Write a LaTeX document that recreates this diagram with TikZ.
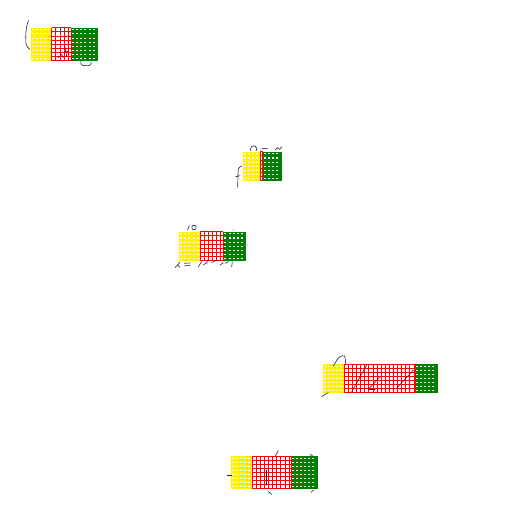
\documentclass[tikz,border=0pt]{standalone}
\definecolor{webgreen}{RGB}{0,128,0}
\begin{document}
\begin{tikzpicture}[x=1pt, y=-1pt,
  cellline/.style={red, line width=0.9pt},
  pip/.style={white},
  ink/.style={black!85, line width=0.6pt, line cap=round, line join=round}
]
  \useasboundingbox (0,0) rectangle (512,512);

  % === GRID BLOCKS: yellow | red cells | green ===
  \foreach \xa/\xb/\xc/\xd/\ya/\yb in {
      31/51.7/71/97.7/27.7/60.7,
      242.7/260/262.7/281.7/151.7/180.7,
      179/200/223.3/246/231.7/260.7,
      322.7/344.3/415/437.7/364/392.7,
      231/252.3/291/317.7/456/488.7}{
    \pgfmathtruncatemacro\nrow{round((\yb-\ya)/4.1)}
    \pgfmathsetmacro\cs{(\yb-\ya)/\nrow}
    \fill[yellow] (\xa,\ya) rectangle (\xb,\yb);
    \fill[white] (\xb,\ya) rectangle (\xc,\yb);
    \fill[webgreen] (\xc,\ya) rectangle (\xd,\yb);
    % red cells
    \pgfmathtruncatemacro\ncol{floor((\xc-\xb)/\cs+0.3)}
    \foreach \k in {0,...,\ncol}
      \draw[cellline] ({min(\xb+\k*\cs,\xc)},\ya) -- ({min(\xb+\k*\cs,\xc)},\yb);
    \draw[cellline] (\xc,\ya) -- (\xc,\yb);
    \foreach \j in {0,...,\nrow}
      \draw[cellline] (\xb,\ya+\j*\cs) -- (\xc,\ya+\j*\cs);
    % white pips
    \pgfmathtruncatemacro\nyel{floor((\xb-\xa)/\cs)-1}
    \pgfmathtruncatemacro\ngrn{floor((\xd-\xc)/\cs)-1}
    \foreach \k in {0,...,\nyel}
      \foreach \j in {1,...,\nrow}
        \fill[pip] ({\xa+(\k+0.5)*\cs-1},{\ya+(\j-0.5)*\cs-0.5}) rectangle ++(2,1.1);
    \foreach \k in {0,...,\ngrn}
      \foreach \j in {1,...,\nrow}
        \fill[pip] ({\xc+(\k+0.5)*\cs-1},{\ya+(\j-0.5)*\cs-0.5}) rectangle ++(2,1.1);
  }

  % === HANDWRITTEN STROKES ===
  % block 1
  \draw[ink] plot[smooth] coordinates {(28.5,20.5) (26.6,27) (25.8,35) (26.3,45) (30,49.5)};
  \draw[ink] plot[smooth] coordinates {(80.7,61.5) (81.5,64.8) (85.5,65.7) (90.5,65) (91,62.3)};
  \draw[ink] (58.3,57.7) -- (61.7,54.3) -- (63.3,57.7);
  \draw[ink] (65,46.7) -- (66.7,56.7);
  \draw[ink] (64.5,51.7) -- (68.3,51.5);
  \draw[ink, black!40] (97.5,44) -- (98.5,45.5);

  % block 2
  \draw[ink] plot[smooth] coordinates {(250,151) (251.5,146.7) (255,146) (256.7,148.3) (256,151)};
  \draw[ink] plot[smooth] coordinates {(261.7,149) (265,148.3) (267.7,149)};
  \draw[ink] plot[smooth] coordinates {(275,150) (277.5,147.7) (279.5,149.5) (281.7,146.7)};
  \draw[ink] plot[smooth] coordinates {(237.7,187.3) (238,175) (238.5,168.3) (241.7,166)};
  \draw[ink] (235.7,176.7) -- (240,175.7);

  % block 3
  \draw[ink] (187.7,230) -- (189.3,225.5);
  \draw[ink] (194,227.5) ellipse (2.2 and 2.4);
  \draw[ink] (175,267.7) -- (180,262);
  \draw[ink] (177.5,264.5) -- (180,267.5);
  \draw[ink] (184.5,263.3) -- (190,263);
  \draw[ink] (184.5,265.8) -- (190,265.5);
  \draw[ink] (198.3,266.7) -- (201.7,261.7);
  \draw[ink] (203.3,265) -- (206.7,262.7);
  \draw[ink] (206.7,263.3) -- (207.7,260);
  \draw[ink] (211.7,262.7) -- (216.7,260);
  \draw[ink] (220,265) -- (223.3,262.7);
  \draw[ink] (225.7,263.3) -- (228.3,261.7);
  \draw[ink] (231.7,266.7) -- (232.3,261.7);
  \draw[ink, black!50] (233,229.5) -- (234,230.5);
  \draw[ink, black!50] (247.2,244.5) -- (248.2,245.5);

  % block 4
  \draw[ink] plot[smooth] coordinates {(321.7,396.7) (325,394.5) (328.3,392.7)};
  \draw[ink] plot[smooth] coordinates {(333.3,366) (337,360) (340,356.7) (344.5,356) (345.7,364)};
  \draw[ink] (351.7,391.7) -- (366.7,365);
  \draw[ink] (368.3,389.3) -- (380,376.7);
  \draw[ink] (369,389.5) -- (375,389.5);
  \draw[ink] (396.7,388.3) -- (413.3,370);

  % block 5
  \draw[ink] (227.3,475) -- (231.7,475);
  \draw[ink] (275,456.7) -- (278.3,450.7);
  \draw[ink, black!50] (269.5,461.2) -- (270.5,462.2);
  \draw[ink] (266.7,470) -- (266.7,485);
  \draw[ink] (268.3,491.7) -- (271.7,494.3);
  \draw[ink] (310,454.3) -- (312.7,456);
  \draw[ink] (313.7,490) -- (311,492.3);
  \draw[ink, black!50] (286.2,484.5) -- (287.2,485.5);
\end{tikzpicture}
\end{document}
